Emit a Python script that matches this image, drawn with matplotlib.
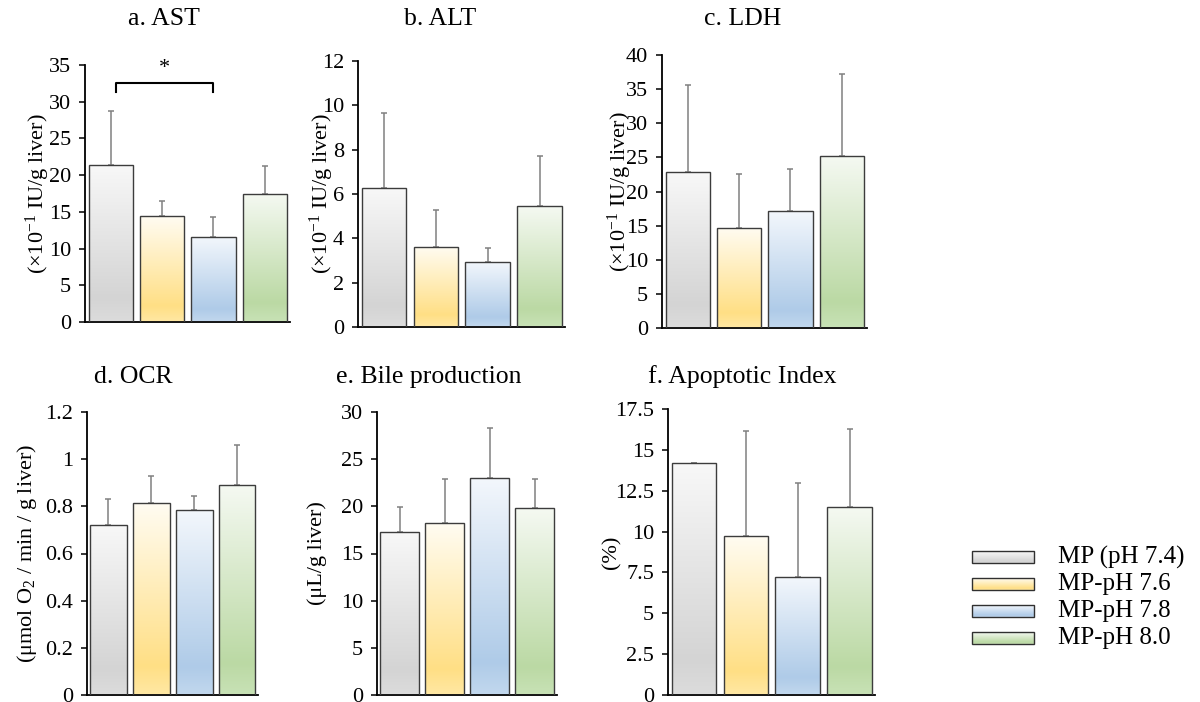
import numpy as np
import matplotlib
matplotlib.use("Agg")
import matplotlib.pyplot as plt
from matplotlib.colors import LinearSegmentedColormap
from matplotlib.ticker import FuncFormatter, MultipleLocator

plt.rcParams["font.family"] = ["Liberation Serif", "DejaVu Serif"]
plt.rcParams["mathtext.fontset"] = "custom"
plt.rcParams["mathtext.rm"] = "Liberation Serif"
plt.rcParams["mathtext.default"] = "regular"

groups = ["MP (pH 7.4)", "MP-pH 7.6", "MP-pH 7.8", "MP-pH 8.0"]

titles = ["a. AST", "b. ALT", "c. LDH", "d. OCR", "e. Bile production", "f. Apoptotic Index"]
ylabels = ["(×10$^{-1}$ IU/g liver)", "(×10$^{-1}$ IU/g liver)", "(×10$^{-1}$ IU/g liver)",
           "(μmol O$_2$ / min / g liver)", "(μL/g liver)", "(%)"]

ast = [21.4, 14.4, 11.6, 17.5]
ast_sd = [7.4, 2.1, 2.7, 3.8]
alt = [6.29, 3.63, 2.94, 5.44]
alt_sd = [3.38, 1.63, 0.63, 2.26]
ldh = [22.8, 14.7, 17.1, 25.2]
ldh_sd = [12.8, 7.9, 6.2, 12.0]
ocr = [0.722, 0.814, 0.784, 0.890]
ocr_sd = [0.107, 0.114, 0.059, 0.171]
bile = [17.3, 18.2, 23.0, 19.8]
bile_sd = [2.6, 4.7, 5.3, 3.1]
apop = [14.2, 9.7, 7.2, 11.5]
apop_sd = [0.0, 6.45, 5.8, 4.75]

values = [ast, alt, ldh, ocr, bile, apop]
errors = [ast_sd, alt_sd, ldh_sd, ocr_sd, bile_sd, apop_sd]
ymax = [35, 12, 40, 1.2, 30, 17.5]
ystep = [5, 2, 5, 0.2, 5, 2.5]

# significance bracket in AST panel: bar 0 vs bar 2
sig_pair = (0, 2)
sig_y = 32.6

# gradient stops: bottom, darkest band, top
stops = [("#dcdcdc", "#d4d4d4", "#f8f8f8"),
         ("#ffe8a4", "#ffdf85", "#fffcf2"),
         ("#c2d8ee", "#afcbe8", "#f3f7fc"),
         ("#c8e2b6", "#bbd9a4", "#f5f9f2")]
cmaps = [LinearSegmentedColormap.from_list("g%d" % i, [(0, s[0]), (0.15, s[1]), (1, s[2])])
         for i, s in enumerate(stops)]

W, H = 1200, 702
fig = plt.figure(figsize=(12, 7.02), dpi=100)

# axes boxes in pixels: left, top, right, bottom
boxes = [(85, 65, 290, 322), (358, 61, 565, 327), (662, 55, 867, 328),
         (87, 412, 258, 695), (377, 412, 557, 695), (668, 409, 875, 695)]
title_pos = [(164, 19), (440, 19), (743, 19), (133, 377), (429, 377), (742, 377)]
ylab_x = [-0.23, -0.175, -0.205, -0.35, -0.33, -0.27]

grad = np.linspace(0, 1, 256).reshape(-1, 1)
width = 0.86
x = np.arange(len(groups))

for i in range(6):
    l, t, r, b = boxes[i]
    ax = fig.add_axes([l / W, 1 - b / H, (r - l) / W, (b - t) / H])
    bars = ax.bar(x, values[i], width, facecolor="none", edgecolor="#3c3c3c", lw=1.0, zorder=3)
    for bar, cm in zip(bars, cmaps):
        x0, w, h = bar.get_x(), bar.get_width(), bar.get_height()
        im = ax.imshow(grad, cmap=cm, extent=[x0, x0 + w, 0, h], aspect="auto",
                       origin="lower", zorder=2, interpolation="bilinear")
        im.set_clip_path(bar)
    ax.errorbar(x, values[i], yerr=[np.zeros(4), errors[i]], fmt="none",
                ecolor="#808080", elinewidth=1.1, capsize=2.2, capthick=1.1, zorder=2.5)
    ax.set_xlim(-0.5, 3.49)
    ax.set_ylim(0, ymax[i])
    ax.yaxis.set_major_locator(MultipleLocator(ystep[i]))
    ax.yaxis.set_major_formatter(FuncFormatter(lambda v, p: "%g" % round(v, 3)))
    ax.set_xticks([])
    for s in ["top", "right"]:
        ax.spines[s].set_visible(False)
    for s in ["left", "bottom"]:
        ax.spines[s].set_linewidth(1.3)
    ax.tick_params(axis="y", labelsize=16, length=4, width=1.1, pad=6)
    ax.set_ylabel(ylabels[i], fontsize=16, va="center")
    ax.yaxis.set_label_coords(ylab_x[i], 0.5)
    tx, ty = title_pos[i]
    fig.text(tx / W, 1 - ty / H, titles[i], fontsize=18.5, ha="center", va="center")
    if i == 0:
        a, c = sig_pair
        ax.plot([a + 0.1, a + 0.1, c, c], [sig_y - 1.3, sig_y, sig_y, sig_y - 1.3],
                color="black", lw=1.5, clip_on=False)
        ax.text((a + c) / 2 + 0.05, sig_y + 0.6, "*", ha="center", va="bottom", fontsize=16)

# legend drawn with gradient swatches
lax = fig.add_axes([0, 0, 1, 1])
lax.axis("off")
row_y = [557, 584, 611, 638]
for ry, name, cm in zip(row_y, groups, cmaps):
    lax.imshow(grad, cmap=cm, extent=[972, 1034, ry + 6, ry - 6], aspect="auto",
               origin="lower", zorder=2)
    lax.add_patch(plt.Rectangle((972, ry - 6), 62, 12, fill=False, edgecolor="#303030", lw=1.0, zorder=3))
    lax.text(1058, ry, name, fontsize=18, va="center", ha="left")
lax.set_xlim(0, W)
lax.set_ylim(H, 0)

fig.savefig("out.png", dpi=100)
